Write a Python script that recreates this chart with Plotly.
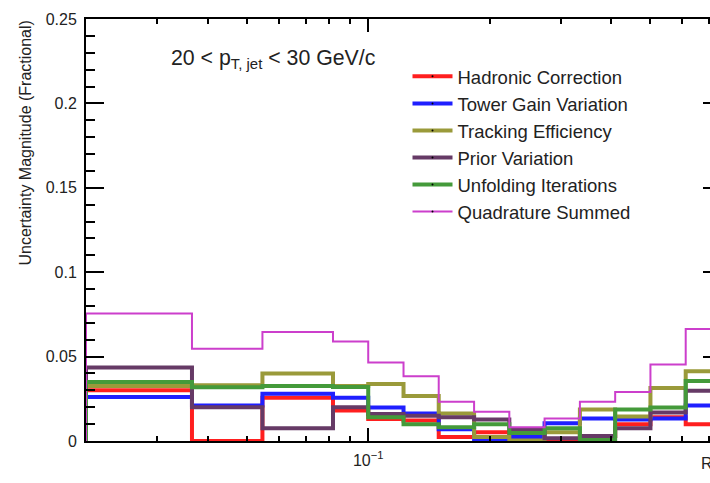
import numpy as np
import plotly.graph_objects as go

# Bin edges (log-spaced)
x_edges = [0.02, 0.0366, 0.0547, 0.0818, 0.1, 0.1223, 0.1495, 0.1829,
           0.2236, 0.2734, 0.3344, 0.4089, 0.5, 0.6114, 0.7477]

hadronic = [0.030, 0.000, 0.0256, 0.018, 0.013, 0.0122, 0.0023, 0.0052,
            0.001, 0.0005, 0.003, 0.0099, 0.014, 0.0099]
tower = [0.026, 0.021, 0.028, 0.0256, 0.0198, 0.0163, 0.007, 0.0005,
         0.0023, 0.0105, 0.0134, 0.0128, 0.0134, 0.021]
tracking = [0.0326, 0.033, 0.040, 0.0326, 0.0337, 0.0267, 0.0163, 0.0023,
            0.0003, 0.0052, 0.0186, 0.0145, 0.0314, 0.0413]
prior = [0.0436, 0.020, 0.0076, 0.020, 0.016, 0.015, 0.014, 0.0128,
         0.0065, 0.0017, 0.003, 0.0076, 0.0169, 0.0297]
unfolding = [0.0349, 0.0318, 0.0326, 0.032, 0.014, 0.0099, 0.0081, 0.0099,
             0.0047, 0.0076, 0.0006, 0.0186, 0.0198, 0.0355]
quadrature = [0.0756, 0.0547, 0.0645, 0.059, 0.0465, 0.0384, 0.0233, 0.0174,
              0.0081, 0.0134, 0.0233, 0.029, 0.0453, 0.0663]

series_names = ["Hadronic Correction", "Tower Gain Variation", "Tracking Efficiency",
                "Prior Variation", "Unfolding Iterations", "Quadrature Summed"]
series_values = [hadronic, tower, tracking, prior, unfolding, quadrature]
series_colors = ["#ff1f1f", "#1f1fff", "#9a9a3a", "#663a66", "#449a3a", "#cc3fcc"]
series_widths = [4, 4, 4, 4, 4, 2]

x_major_ticks = [0.1]
x_major_labels = ["10<sup>\u22121</sup>"]
x_minor_ticks = [0.03, 0.04, 0.05, 0.06, 0.07, 0.08, 0.09, 0.2, 0.3, 0.4, 0.5, 0.6, 0.7]

FONT = "Liberation Sans, Arial, Helvetica, sans-serif"

fig = go.Figure()


def step_xy(edges, vals):
    xs = [edges[0]] + list(edges) + [edges[-1]]
    ys = [0] + list(vals) + [vals[-1], 0]
    return xs, ys


for name, vals, col, w in zip(series_names, series_values, series_colors, series_widths):
    xs, ys = step_xy(x_edges, vals)
    fig.add_trace(go.Scatter(x=xs, y=ys, mode="lines", line=dict(color=col, width=w, shape="hv"),
                             name=name, showlegend=False, legendgroup=name, hoverinfo="skip"))

for name, col, w in zip(series_names, series_colors, series_widths):
    fig.add_trace(go.Scatter(x=[None], y=[None], mode="lines+markers", name=name,
                             line=dict(color=col, width=w),
                             marker=dict(color="black", size=2),
                             legendgroup=name, showlegend=True))

fig.update_layout(
    width=745, height=483,
    margin=dict(l=86, r=24, t=11, b=42),
    plot_bgcolor="white", paper_bgcolor="white",
    font=dict(family=FONT, color="black", size=16),
    legend=dict(x=0.5063, y=0.908, xanchor="left", yanchor="top",
                bgcolor="rgba(0,0,0,0)", font=dict(size=18.5, color="#222"),
                tracegroupgap=0, itemwidth=40),
    xaxis=dict(type="log", range=[np.log10(x_edges[0]), np.log10(x_edges[-1])],
               showline=True, linecolor="black", linewidth=2, mirror="ticks",
               ticks="inside", ticklen=13, tickwidth=1.5, tickcolor="black",
               tickvals=x_major_ticks, ticktext=x_major_labels,
               tickfont=dict(size=16, color="#222"), ticklabelstandoff=4,
               showgrid=False, zeroline=False,
               minor=dict(tickvals=x_minor_ticks, ticks="inside", ticklen=5,
                          tickwidth=1.5, tickcolor="black", showgrid=False)),
    yaxis=dict(range=[0, 0.25], tick0=0, dtick=0.05,
               showline=True, linecolor="black", linewidth=2, mirror="ticks",
               ticks="inside", ticklen=18, tickwidth=2, tickcolor="black",
               tickfont=dict(size=16, color="#222"), ticklabelstandoff=4,
               showgrid=False, zeroline=False,
               minor=dict(dtick=0.01, ticks="inside", ticklen=9, tickwidth=2,
                          tickcolor="black", showgrid=False)),
)

fig.add_annotation(text="20 &lt; p<sub>T, jet</sub> &lt; 30 GeV/c", xref="paper", yref="paper",
                   x=0.131, y=0.905, xanchor="left", yanchor="middle", showarrow=False,
                   font=dict(size=21.3, color="#222"))
fig.add_annotation(text="Uncertainty Magnitude (Fractional)", xref="paper", yref="paper",
                   x=-0.096, y=1.0, xanchor="center", yanchor="top", textangle=-90,
                   showarrow=False, font=dict(size=16, color="#222"))
fig.add_annotation(text="R<sub>g</sub>", xref="paper", yref="paper",
                   x=0.965, y=-0.055, xanchor="left", yanchor="middle", showarrow=False,
                   font=dict(size=16, color="#222"))

fig.write_html("out.html", config={"displayModeBar": False}, post_script=(
    "document.documentElement.style.overflow='hidden';"
    "document.body.style.overflow='hidden';document.body.style.margin='0';"))
